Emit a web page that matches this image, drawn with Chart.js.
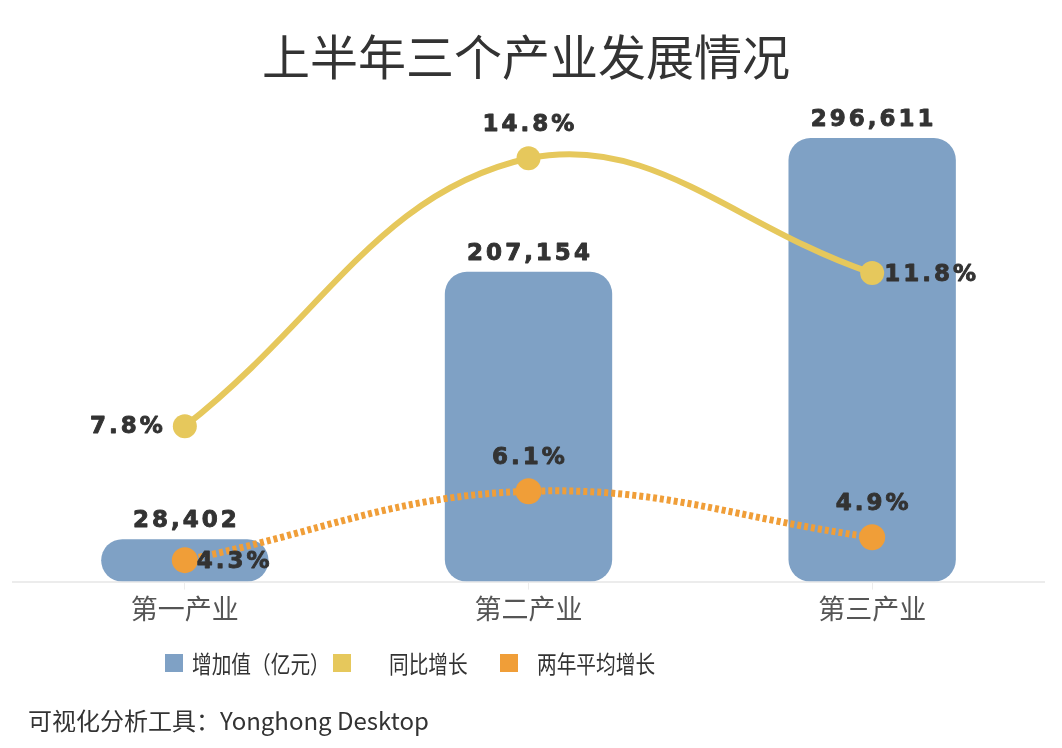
<!DOCTYPE html>
<html>
<head>
<meta charset="utf-8">
<script src="https://cdn.jsdelivr.net/npm/chart.js@4.4.0/dist/chart.umd.min.js"></script>
<style>
    html, body { margin: 0; padding: 0; background: #fff; }
    body { width: 1062px; height: 748px; position: relative; overflow: hidden; font-family: "Noto Sans CJK SC", "Noto Sans", sans-serif; }
    #chart-wrap { position: absolute; left: 0; top: 0; width: 1062px; height: 748px; }
    .title { position: absolute; left: 0; width: 1052px; top: 21px; text-align: center; font-size: 48px; color: #333; line-height: 66px; }
    .legend { position: absolute; top: 648px; left: 0; height: 30px; color: #333; }
    .legend-item { position: absolute; top: 0; white-space: nowrap; line-height: 30px; }
    .legend-item.txt { font-size: 24px; transform: scaleX(0.82); transform-origin: left center; }
    .legend-item .sw { position: absolute; top: 6px; width: 18px; height: 18px; }
    .footer { position: absolute; left: 28px; top: 704px; font-size: 24px; color: #333; line-height: 32px; }
</style>
</head>
<body>
<div id="chart-wrap"><canvas id="industryChart" width="1062" height="748"></canvas></div>
<div class="title">上半年三个产业发展情况</div>
<div class="legend" id="legend"></div>
<div class="footer">可视化分析工具：Yonghong Desktop</div>

<script>
// data
const categories = ['第一产业', '第二产业', '第三产业'];
const addedValue = [28402, 207154, 296611];       // 增加值（亿元）
const yoyGrowth = [7.8, 14.8, 11.8];              // 同比增长 %
const twoYearAvg = [4.3, 6.1, 4.9];               // 两年平均增长 %
const seriesNames = ['增加值（亿元）', '同比增长', '两年平均增长'];

const barColor = '#7fa1c5';
const yellow = '#e6c85c';
const orange = '#f09e38';

// where each point label sits relative to its point
const yoySide = ['left', 'top', 'right'];
const avgSide = ['right', 'top', 'top'];

const labelPlugin = {
    id: 'valueLabels',
    afterDatasetsDraw(chart) {
        const ctx = chart.ctx;
        ctx.save();
        ctx.font = 'bold 23px "DejaVu Sans"';
        ctx.fillStyle = '#333';
        ctx.strokeStyle = '#333';
        ctx.lineWidth = 0.9;
        ctx.lineJoin = 'round';
        ctx.letterSpacing = '3px';
        ctx.textBaseline = 'middle';

        const put = (txt, x, y) => {
            ctx.fillText(txt, x, y);
            ctx.strokeText(txt, x, y);
        };

        // bar labels
        chart.getDatasetMeta(0).data.forEach((bar, i) => {
            ctx.textAlign = 'center';
            put(addedValue[i].toLocaleString('en-US'), bar.x + 1.5, bar.y - 18);
        });

        const drawPointLabels = (metaIdx, values, sides) => {
            chart.getDatasetMeta(metaIdx).data.forEach((pt, i) => {
                const txt = values[i].toFixed(1) + '%';
                if (sides[i] === 'top') {
                    ctx.textAlign = 'center';
                    put(txt, pt.x + 1.5, pt.y - 33);
                } else if (sides[i] === 'left') {
                    ctx.textAlign = 'right';
                    put(txt, pt.x - 19, pt.y + 1);
                } else {
                    ctx.textAlign = 'left';
                    put(txt, pt.x + 12, pt.y + 2);
                }
            });
        };
        drawPointLabels(1, yoyGrowth, yoySide);
        drawPointLabels(2, twoYearAvg, avgSide);
        ctx.restore();
    }
};

const ctx = document.getElementById('industryChart');

new Chart(ctx, {
    type: 'bar',
    data: {
        labels: categories,
        datasets: [
            {
                type: 'bar',
                label: seriesNames[0],
                data: addedValue,
                backgroundColor: barColor,
                borderRadius: 22,
                borderSkipped: false,
                categoryPercentage: 1,
                barPercentage: 0.487,
                yAxisID: 'y',
                order: 3
            },
            {
                type: 'line',
                label: seriesNames[1],
                data: yoyGrowth,
                borderColor: yellow,
                backgroundColor: yellow,
                borderWidth: 6,
                pointRadius: 12,
                pointBorderWidth: 0,
                pointBackgroundColor: yellow,
                tension: 0.4,
                yAxisID: 'y1',
                order: 1
            },
            {
                type: 'line',
                label: seriesNames[2],
                data: twoYearAvg,
                borderColor: orange,
                backgroundColor: orange,
                borderWidth: 7,
                borderDash: [4, 3],
                pointRadius: 13,
                pointBorderWidth: 0,
                pointBackgroundColor: orange,
                tension: 0.4,
                yAxisID: 'y1',
                order: 2
            }
        ]
    },
    options: {
        responsive: false,
        animation: false,
        devicePixelRatio: 1,
        layout: { padding: { left: 10, right: 18, top: 133, bottom: 120 } },
        plugins: {
            legend: { display: false },
            tooltip: { enabled: false },
            title: { display: false }
        },
        scales: {
            x: {
                grid: { offset: false, drawOnChartArea: false, drawTicks: true, tickLength: 8, color: '#ececec' },
                border: { display: true, color: '#ececec', width: 2 },
                ticks: { color: '#555', font: { size: 27, family: '"Noto Sans CJK SC"' }, padding: 3 }
            },
            y: { display: false, min: 0, max: 300000 },
            y1: { display: false, min: 3.74, max: 15.46 }
        }
    },
    plugins: [labelPlugin]
});

// custom legend
const legendEl = document.getElementById('legend');
const legendColors = [barColor, yellow, orange];
const swatchX = [165, 333, 500];
const textX = [192, 389, 537];
seriesNames.forEach((name, i) => {
    const sw = document.createElement('span');
    sw.className = 'legend-item';
    sw.style.left = swatchX[i] + 'px';
    sw.innerHTML = `<span class="sw" style="left:0; background:${legendColors[i]};"></span>`;
    legendEl.appendChild(sw);

    const t = document.createElement('span');
    t.className = 'legend-item txt';
    t.style.left = textX[i] + 'px';
    t.textContent = name;
    legendEl.appendChild(t);
});
</script>
</body>
</html>
